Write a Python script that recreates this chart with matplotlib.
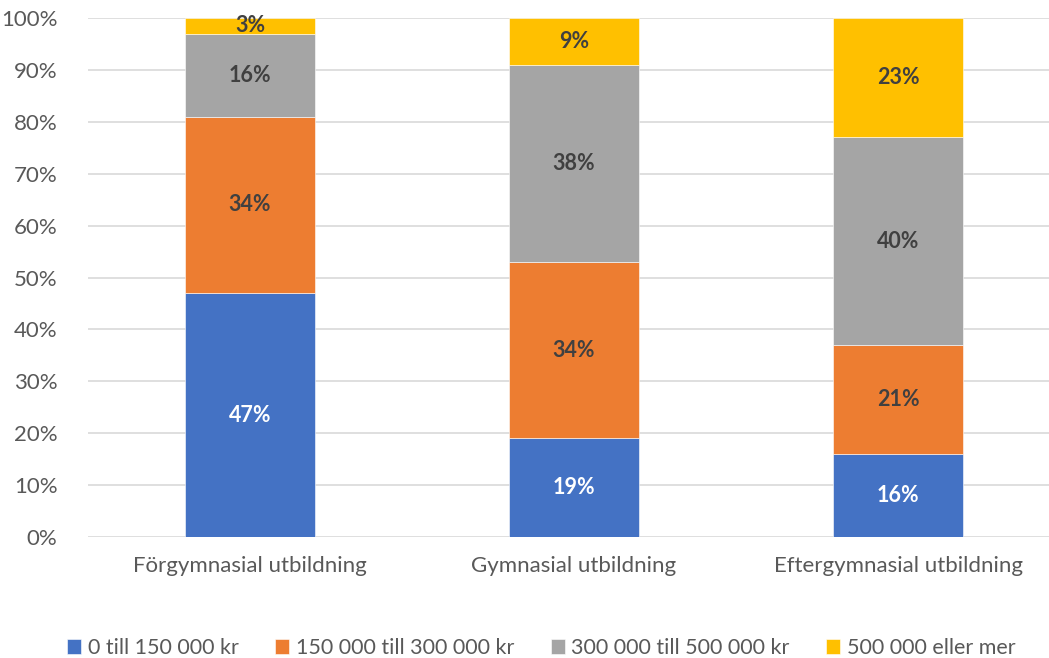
import matplotlib.pyplot as plt
from matplotlib.ticker import PercentFormatter

plt.rcParams['font.family'] = ['Lato', 'DejaVu Sans']

categories = ['Förgymnasial utbildning', 'Gymnasial utbildning', 'Eftergymnasial utbildning']
series = ['0 till 150 000 kr', '150 000 till 300 000 kr', '300 000 till 500 000 kr', '500 000 eller mer']
values = [
    [47, 19, 16],
    [34, 34, 21],
    [16, 38, 40],
    [3, 9, 23],
]
colors = ['#4472C4', '#ED7D31', '#A5A5A5', '#FFC000']
label_colors = ['white', '#404040', '#404040', '#404040']

fig = plt.figure(figsize=(10.49, 6.58), dpi=100)
ax = fig.add_axes([88 / 1049, 1 - 537 / 658, 1 - 88 / 1049, (537 - 18) / 658])

x = range(len(categories))
bottom = [0] * len(categories)
for vals, name, col, lc in zip(values, series, colors, label_colors):
    bars = ax.bar(x, vals, width=0.4, bottom=bottom, color=col, label=name,
                  edgecolor='white', linewidth=0.4, zorder=3)
    for b, v, y0 in zip(bars, vals, bottom):
        ax.text(b.get_x() + b.get_width() / 2, y0 + v / 2, f'{v}%',
                ha='center', va='center', fontsize=15.5, fontweight='bold', color=lc, zorder=4)
    bottom = [a + v for a, v in zip(bottom, vals)]

ax.set_ylim(0, 100)
ax.set_xlim(-0.5, 2.466)
ax.set_yticks(range(0, 101, 10))
ax.yaxis.set_major_formatter(PercentFormatter(decimals=0))
ax.yaxis.grid(True, color='#D9D9D9', linewidth=1.2, zorder=0)
ax.set_xticks(list(x))
ax.set_xticklabels(categories)
ax.tick_params(axis='both', length=0, labelsize=16, colors='#595959')
ax.tick_params(axis='x', pad=14)
ax.tick_params(axis='y', pad=22)
for s in ax.spines.values():
    s.set_visible(False)

fig.legend(loc='center', bbox_to_anchor=(0.516, 1 - 648 / 658), ncol=4, frameon=False,
           fontsize=15.5, handlelength=0.65, handleheight=0.65, handletextpad=0.3,
           columnspacing=1.7, labelcolor='#595959')

fig.savefig('out.png', dpi=100)
